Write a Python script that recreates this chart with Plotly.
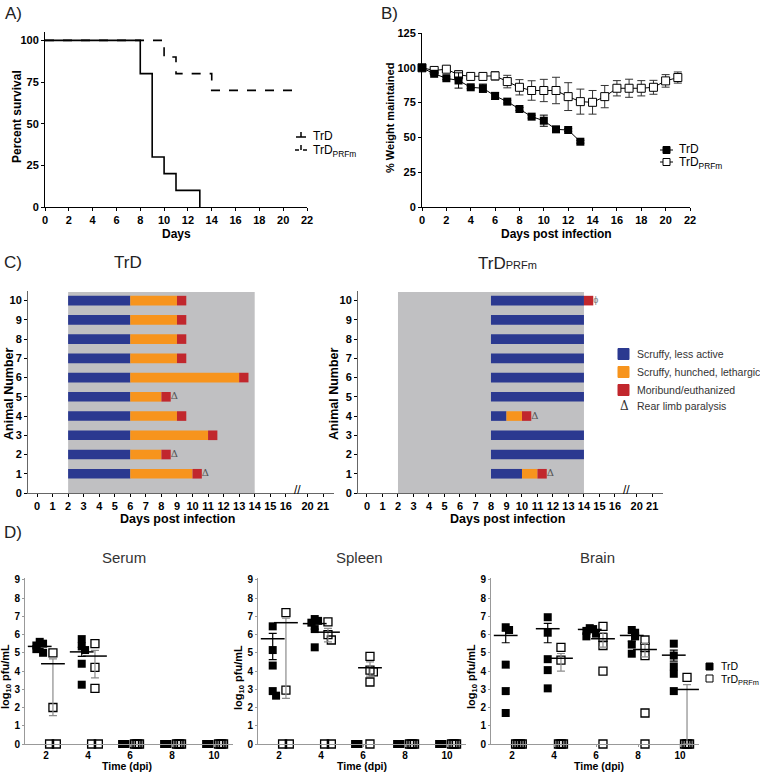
import plotly.graph_objects as go

W, H = 760, 773
FONT = "Arial, 'Liberation Sans', sans-serif"

# A) survival
surv_trd_days = [0, 8, 9, 10, 11, 13]
surv_trd_pct = [100, 80, 30, 20, 10, 0]
surv_prfm_days = [0, 10, 11, 14, 21]
surv_prfm_pct = [100, 90, 80, 70, 70]

# B) weight
weight_trd_days = list(range(0, 14))
weight_trd = [100, 95.7, 92.5, 90.9, 86, 85.3, 79.8, 75.7, 70.4, 64.9, 62, 55.8, 55.3, 46.9]
weight_trd_err = [1, 1, 1, 5.5, 1, 3, 2.5, 1, 1, 1, 4, 2, 1, 1]
weight_prfm_days = list(range(0, 22))
weight_prfm = [100, 98.1, 99, 95, 93.8, 93.8, 94.2, 90.1, 86, 83.7, 83.7, 83.7, 79.3, 75.7,
               75.2, 79.3, 85.3, 85.3, 85.3, 86, 90.6, 93]
weight_prfm_err = [1, 1.5, 1.5, 3, 1.5, 2, 3, 4.5, 5.5, 7, 8, 9.5, 10, 9, 8.5, 8, 5.5, 6.5,
                   5.5, 5, 4.5, 4]

# C) clinical signs per animal (animal 1..10)
animals = [1, 2, 3, 4, 5, 6, 7, 8, 9, 10]
trd_blue_start = [2, 2, 2, 2, 2, 2, 2, 2, 2, 2]
trd_blue_end = [6, 6, 6, 6, 6, 6, 6, 6, 6, 6]
trd_orange_end = [10, 8, 11, 9, 8, 13, 9, 9, 9, 9]
trd_red_end = [10.6, 8.6, 11.6, 9.6, 8.6, 13.6, 9.6, 9.6, 9.6, 9.6]
trd_paralysis = [1, 2, 5]
trd_phi = []

prfm_blue_start = [8, 8, 8, 8, 8, 8, 8, 8, 8, 8]
prfm_blue_end = [10, 14, 14, 9, 14, 14, 14, 14, 14, 14]
prfm_orange_end = [11, None, None, 10, None, None, None, None, None, None]
prfm_red_end = [11.6, None, None, 10.6, None, None, None, None, None, 14.6]
prfm_paralysis = [1, 4]
prfm_phi = [10]

c_tick_days = [0, 1, 2, 3, 4, 5, 6, 7, 8, 9, 10, 11, 12, 13, 14, 15, 16, 20, 21]

# D) viral titres, log10 pfu/mL
dpi = [2, 4, 6, 8, 10]
serum_trd = [[5.6, 5.5, 5.4, 5.2, 5.0], [5.75, 5.35, 5.15, 4.4, 3.25], [0, 0, 0], [0, 0, 0], [0, 0, 0]]
serum_prfm = [[5.0, 2.0, 0, 0], [5.5, 4.2, 3.05, 0, 0], [0, 0, 0, 0], [0, 0, 0, 0], [0, 0, 0, 0]]
spleen_trd = [[6.45, 5.15, 4.3, 2.9, 2.65], [6.85, 6.75, 6.65, 6.3, 5.3], [0, 0, 0], [0, 0, 0], [0, 0, 0]]
spleen_prfm = [[7.2, 2.95, 0, 0], [6.7, 6.0, 5.7, 0, 0], [4.8, 4.05, 3.95, 3.4, 0], [0, 0, 0, 0], [0, 0, 0, 0]]
brain_trd = [[6.4, 6.25, 4.35, 2.9, 1.7], [6.95, 6.1, 4.65, 4.05, 3.05], [6.35, 6.3, 6.2, 6.05, 5.9],
             [6.25, 6.1, 5.9, 5.45, 4.95], [5.5, 4.85, 4.25, 3.85, 2.9]]
brain_prfm = [[0, 0, 0, 0, 0], [5.3, 4.6, 0, 0, 0, 0], [6.45, 5.85, 5.4, 4.0, 0], [5.7, 5.3, 4.85, 1.7, 0],
              [3.65, 0, 0, 0, 0]]

# mean with upper/lower SEM ends
serum_trd_mean = [5.35, 5.05, None, None, None]
serum_trd_hi = [5.47, 5.3, None, None, None]
serum_trd_lo = [5.23, 4.8, None, None, None]
serum_prfm_mean = [4.4, 4.82, None, None, None]
serum_prfm_hi = [4.67, 5.13, None, None, None]
serum_prfm_lo = [1.56, 3.63, None, None, None]
spleen_trd_mean = [5.77, 6.6, None, None, None]
spleen_trd_hi = [6.06, 6.8, None, None, None]
spleen_trd_lo = [4.63, 6.3, None, None, None]
spleen_prfm_mean = [6.65, 6.13, 4.18, None, None]
spleen_prfm_hi = [6.9, 6.34, 4.5, None, None]
spleen_prfm_lo = [2.5, 5.6, 3.72, None, None]
brain_trd_mean = [5.95, 6.32, 6.28, 5.95, 4.87]
brain_trd_hi = [6.19, 6.61, 6.4, 6.1, 5.15]
brain_trd_lo = [5.55, 5.55, 6.1, 5.64, 4.54]
brain_prfm_mean = [None, 4.7, 5.77, 5.18, 2.99]
brain_prfm_hi = [None, 4.96, 6.1, 5.51, 3.26]
brain_prfm_lo = [None, 3.99, 5.31, 4.78, 0]

BLUE, ORANGE, RED, GREY_BG = '#2B3990', '#F7941D', '#C1272D', '#C0C0C2'


def px(x):
    return x / W


def py(y):
    return 1 - y / H


fig = go.Figure()

# ---------- A
fig.add_trace(go.Scatter(x=surv_trd_days, y=surv_trd_pct, mode='lines', line_shape='hv',
                         line=dict(color='black', width=1.6), xaxis='x', yaxis='y', cliponaxis=False))
fig.add_trace(go.Scatter(x=surv_prfm_days, y=surv_prfm_pct, mode='lines', line_shape='hv',
                         line=dict(color='black', width=1.6, dash='dash'), xaxis='x', yaxis='y', cliponaxis=False))

# ---------- B
fig.add_trace(go.Scatter(x=weight_prfm_days, y=weight_prfm, mode='lines+markers', xaxis='x2', yaxis='y2',
                         line=dict(color='black', width=1),
                         marker=dict(symbol='square', size=8, color='white', line=dict(color='black', width=1)),
                         error_y=dict(type='data', array=weight_prfm_err, color='#333', thickness=1, width=4),
                         cliponaxis=False))
fig.add_trace(go.Scatter(x=weight_trd_days, y=weight_trd, mode='lines+markers', xaxis='x2', yaxis='y2',
                         line=dict(color='black', width=1),
                         marker=dict(symbol='square', size=8, color='black'),
                         error_y=dict(type='data', array=weight_trd_err, color='black', thickness=1, width=4),
                         cliponaxis=False))


# ---------- C
def c_pos(d):
    return d if d <= 16 else d - 2.6


def add_course(xa, ya, blue_s, blue_e, orange_e, red_e, paralysis, phi):
    fig.add_trace(go.Bar(y=animals, base=blue_s, x=[e - s for s, e in zip(blue_s, blue_e)],
                         orientation='h', width=0.5, marker=dict(color=BLUE, line_width=0),
                         xaxis=xa, yaxis=ya))
    oy, ob, ox = [], [], []
    for a, s, e in zip(animals, blue_e, orange_e):
        if e is not None:
            oy.append(a); ob.append(s); ox.append(e - s)
    fig.add_trace(go.Bar(y=oy, base=ob, x=ox, orientation='h', width=0.5,
                         marker=dict(color=ORANGE, line_width=0), xaxis=xa, yaxis=ya))
    ry, rb, rx = [], [], []
    for a, be, oe, re in zip(animals, blue_e, orange_e, red_e):
        if re is not None:
            s = oe if oe is not None else be
            ry.append(a); rb.append(s); rx.append(re - s)
    fig.add_trace(go.Bar(y=ry, base=rb, x=rx, orientation='h', width=0.5,
                         marker=dict(color=RED, line_width=0), xaxis=xa, yaxis=ya))
    ends = dict(zip(animals, red_e))
    fig.add_trace(go.Scatter(x=[ends[a] for a in paralysis], y=paralysis, mode='text', text=['Δ'] * len(paralysis),
                             textposition='middle right', textfont=dict(size=10, color='#555', family='DejaVu Serif'),
                             xaxis=xa, yaxis=ya, cliponaxis=False))
    if phi:
        fig.add_trace(go.Scatter(x=[ends[a] for a in phi], y=phi, mode='text', text=['ϕ'] * len(phi),
                                 textposition='middle right', textfont=dict(size=9, color='#777'),
                                 xaxis=xa, yaxis=ya, cliponaxis=False))


add_course('x3', 'y3', trd_blue_start, trd_blue_end, trd_orange_end, trd_red_end, trd_paralysis, trd_phi)
add_course('x4', 'y4', prfm_blue_start, prfm_blue_end, prfm_orange_end, prfm_red_end, prfm_paralysis, prfm_phi)


# ---------- D
def spread(values, center):
    nz = sum(1 for v in values if v == 0)
    step = 0.32 if nz <= 2 else 0.08
    xs, placed, zi = [], [], 0
    for v in values:
        if v == 0:
            xs.append(center + (zi - (nz - 1) / 2) * step)
            zi += 1
        else:
            k = sum(1 for p in placed if abs(p - v) < 0.3)
            xs.append(center + [0, 0.16, -0.16, 0.3, -0.3][k % 5])
            placed.append(v)
    return xs


def add_organ(xa, ya, trd, prfm, means):
    for groups, off, filled in [(trd, -0.3, True), (prfm, 0.33, False)]:
        xs, ys = [], []
        for d, vals in zip(dpi, groups):
            xs += spread(vals, d + off)
            ys += vals
        if filled:
            mk = dict(symbol='square', size=8, color='black')
        else:
            mk = dict(symbol='square-open', size=8, color='black', line=dict(width=1.3))
        fig.add_trace(go.Scatter(x=xs, y=ys, mode='markers', marker=mk, xaxis=xa, yaxis=ya, cliponaxis=False))
    for (m, hi, lo), off, ecol in zip(means, [-0.3, 0.33], ['black', '#8c8c8c']):
        mx, my, up, dn = [], [], [], []
        for d, a, b, c in zip(dpi, m, hi, lo):
            if a is not None:
                mx.append(d + off); my.append(a); up.append(b - a); dn.append(a - c)
        fig.add_trace(go.Scatter(x=mx, y=my, mode='markers', xaxis=xa, yaxis=ya, cliponaxis=False,
                                 marker=dict(symbol='line-ew', size=17, line=dict(color='black', width=1.5)),
                                 error_y=dict(type='data', symmetric=False, array=up, arrayminus=dn,
                                              color=ecol, thickness=1.2, width=4)))


add_organ('x5', 'y5', serum_trd, serum_prfm,
          [(serum_trd_mean, serum_trd_hi, serum_trd_lo), (serum_prfm_mean, serum_prfm_hi, serum_prfm_lo)])
add_organ('x6', 'y6', spleen_trd, spleen_prfm,
          [(spleen_trd_mean, spleen_trd_hi, spleen_trd_lo), (spleen_prfm_mean, spleen_prfm_hi, spleen_prfm_lo)])
add_organ('x7', 'y7', brain_trd, brain_prfm,
          [(brain_trd_mean, brain_trd_hi, brain_trd_lo), (brain_prfm_mean, brain_prfm_hi, brain_prfm_lo)])


# ---------- axes
def ax(size=11, **kw):
    base = dict(showline=True, linecolor='black', linewidth=1, ticks='outside', ticklen=3, tickwidth=1,
                tickcolor='black', showgrid=False, zeroline=False, automargin=False,
                tickfont=dict(size=size, weight='bold', color='black', family=FONT))
    base.update(kw)
    return base


layout = dict(
    xaxis=ax(domain=[px(45), px(307)], anchor='y', range=[0, 22], dtick=2),
    yaxis=ax(domain=[py(207), py(32)], anchor='x', range=[0, 105], tickvals=[0, 25, 50, 75, 100]),
    xaxis2=ax(domain=[px(422), px(690)], anchor='y2', range=[0, 22], dtick=2),
    yaxis2=ax(domain=[py(207), py(33)], anchor='x2', range=[0, 125], dtick=25),
)
for n, (x0, x1) in [(3, (28, 334)), (4, (358, 663))]:
    layout['xaxis%d' % n] = ax(domain=[px(x0), px(x1)], anchor='y%d' % n, range=[-0.58, 19.1],
                               tickvals=[c_pos(d) for d in c_tick_days], ticktext=[str(d) for d in c_tick_days],
                               linecolor='#666')
    layout['yaxis%d' % n] = ax(domain=[py(493), py(291)], anchor='x%d' % n, range=[0, 10.5],
                               tickvals=list(range(11)), linecolor='#666')
for n, (x0, x1) in [(5, (25, 233)), (6, (258, 466)), (7, (491, 699))]:
    layout['xaxis%d' % n] = ax(10, domain=[px(x0), px(x1)], anchor='y%d' % n, range=[1.0, 10.9],
                               tickvals=dpi, linecolor='#999', tickcolor='#999', ticklen=2)
    layout['yaxis%d' % n] = ax(10, domain=[py(744), py(578)], anchor='x%d' % n, range=[0, 9.1],
                               tickvals=list(range(10)), linecolor='#999', tickcolor='#999', ticklen=2)

shapes = []
for xr, yr in [('x3', 'y3'), ('x4', 'y4')]:
    shapes.append(dict(type='rect', xref=xr, yref=yr, x0=2, x1=14, y0=0, y1=10.45,
                       fillcolor=GREY_BG, line_width=0, layer='below'))


def pline(x0, y0, x1, y1, width=1.5):
    shapes.append(dict(type='line', xref='paper', yref='paper', x0=px(x0), y0=py(y0), x1=px(x1), y1=py(y1),
                       line=dict(color='black', width=width)))


def prect(x0, y0, x1, y1, fill, line_color=None):
    shapes.append(dict(type='rect', xref='paper', yref='paper', x0=px(x0), y0=py(y0), x1=px(x1), y1=py(y1),
                       fillcolor=fill, line=dict(color=line_color or fill, width=1)))


annotations = []


def text(x, y, s, size=12, anchor='left', color='black', family=FONT, weight='normal', angle=0):
    annotations.append(dict(x=px(x), y=py(y), xref='paper', yref='paper', text=s, showarrow=False,
                            xanchor=anchor, yanchor='middle', textangle=angle,
                            font=dict(size=size, color=color, family=family, weight=weight)))


# axis titles
text(176, 234, 'Days', 12, 'center', weight='bold')
text(17, 117, 'Percent survival', 12, 'center', weight='bold', angle=-90)
text(556, 234, 'Days post infection', 12, 'center', weight='bold')
text(390, 118, '% Weight maintained', 11, 'center', weight='bold', angle=-90)
text(177, 519, 'Days post infection', 12.5, 'center', weight='bold')
text(507, 519, 'Days post infection', 12.5, 'center', weight='bold')
text(9, 394, 'Animal Number', 12.5, 'center', weight='bold', angle=-90)
text(334, 394, 'Animal Number', 12.5, 'center', weight='bold', angle=-90)
for xc, yl in [(127, 6), (362, 239), (599, 472)]:
    text(xc, 766, 'Time (dpi)', 10.5, 'center', weight='bold')
    text(yl, 677, 'log<sub>10</sub> pfu/mL', 11, 'center', weight='bold', angle=-90)

# A legend
pline(296, 137, 306, 137)
pline(301, 132, 301, 137)
pline(295, 150, 299, 150)
pline(303, 150, 307, 150)
pline(301, 145, 301, 150)
text(311, 136, 'TrD')
text(311, 151, 'TrD<sub>PRFm</sub>')

# B legend
pline(660, 150, 673, 150, 1)
prect(663, 146.5, 670, 153.5, 'black')
pline(660, 162, 673, 162, 1)
prect(663, 158.5, 670, 165.5, 'white', 'black')
text(677, 149, 'TrD')
text(677, 163, 'TrD<sub>PRFm</sub>')

# C legend
for yy, col, lab in [(354, BLUE, 'Scruffy, less active'), (372, ORANGE, 'Scruffy, hunched, lethargic'),
                     (390, RED, 'Moribund/euthanized')]:
    prect(618, yy - 5.5, 629, yy + 5.5, col)
    text(635, yy, lab, size=10.5, color='#333')
text(624, 406, 'Δ', size=12, anchor='center', color='#333', family='DejaVu Serif')
text(635, 406, 'Rear limb paralysis', size=10.5, color='#333')

# D legend
prect(706, 663, 713, 670, 'black')
prect(706, 675, 713, 682, 'white', 'black')
text(719, 666, 'TrD', size=10.5)
text(719, 680, 'TrD<sub>PRFm</sub>', size=10.5)

# panel labels and titles
text(3, 13, 'A)', size=17, color='#222')
text(379, 13, 'B)', size=17, color='#222')
text(2, 262, 'C)', size=17, color='#222')
text(2, 532, 'D)', size=17, color='#222')
text(128, 262, 'TrD', size=17, anchor='center', color='#222')
text(507, 263, "TrD<span style='font-size:11px'>PRFm</span>", size=17, anchor='center', color='#222')
text(124, 557, 'Serum', size=15, anchor='center', color='#333')
text(359, 557, 'Spleen', size=15, anchor='center', color='#333')
text(597, 557, 'Brain', size=15, anchor='center', color='#333')

# axis breaks
for xr, yr in [('x3', 'y3'), ('x4', 'y4')]:
    annotations.append(dict(x=16.75, y=0, xref=xr, yref=yr, text='//', showarrow=False, yshift=3,
                            font=dict(size=12, color='black', family=FONT)))

fig.update_layout(width=W, height=H, margin=dict(l=0, r=0, t=0, b=0), template='none',
                  paper_bgcolor='white', plot_bgcolor='white', showlegend=False, barmode='overlay',
                  font=dict(family=FONT), shapes=shapes, annotations=annotations, **layout)

fig.write_html("out.html", config={'displayModeBar': False},
               post_script="document.body.style.margin='0px';")
